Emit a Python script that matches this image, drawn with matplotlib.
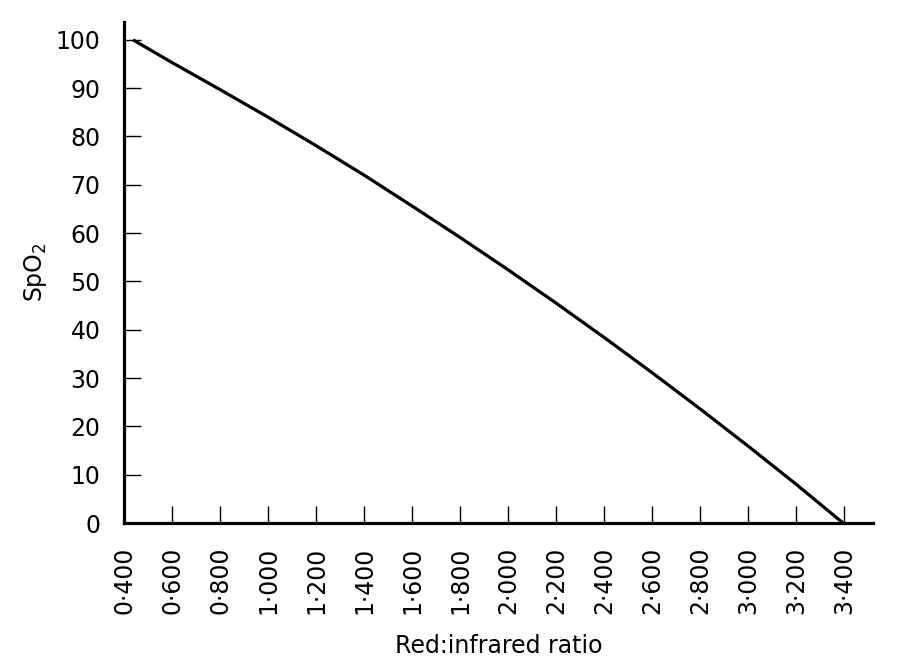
import matplotlib
matplotlib.use("Agg")
import matplotlib.pyplot as plt

# SpO2 calibration curve
ratio = [0.4375, 0.6, 0.8, 1.0, 1.2, 1.4, 1.6, 1.8, 2.0, 2.2, 2.4, 2.6, 2.8, 3.0, 3.2, 3.395]
spo2 = [100, 95.3, 89.7, 84.0, 78.1, 72.0, 65.6, 59.1, 52.4, 45.5, 38.4, 31.1, 23.6, 15.9, 8.0, 0]

x_ticks = [0.4, 0.6, 0.8, 1.0, 1.2, 1.4, 1.6, 1.8, 2.0, 2.2, 2.4, 2.6, 2.8, 3.0, 3.2, 3.4]
x_tick_labels = [f"{v:.3f}".replace(".", "\u00b7") for v in x_ticks]
y_ticks = [0, 10, 20, 30, 40, 50, 60, 70, 80, 90, 100]

plt.rcParams['font.family'] = ['DejaVu Sans']
plt.rcParams['mathtext.fontset'] = 'dejavusans'
plt.rcParams['mathtext.default'] = 'regular'

fig = plt.figure(figsize=(9.1, 6.7), dpi=100)
ax = fig.add_axes([0.1363, 0.2194, 0.8231, 0.7478])

ax.plot(ratio, spo2, color='black', lw=2.3, solid_capstyle='butt', solid_joinstyle='round')

ax.set_xlim(0.4, 3.52)
ax.set_ylim(0, 103.7)

ax.set_xticks(x_ticks)
ax.set_xticklabels(x_tick_labels, rotation=90)
ax.set_yticks(y_ticks)

ax.tick_params(axis='x', direction='in', length=12, width=1.0, pad=17, labelsize=17)
ax.tick_params(axis='y', direction='in', length=12, width=1.0, pad=17, labelsize=17)
# no tick mark at the corner (0.400)
ax.xaxis.get_major_ticks()[0].tick1line.set_visible(False)

for side in ['top', 'right']:
    ax.spines[side].set_visible(False)
for side in ['left', 'bottom']:
    ax.spines[side].set_linewidth(2.3)

ax.set_xlabel('Red:infrared ratio', fontsize=17, labelpad=14)
ax.set_ylabel('SpO$_2$', fontsize=17, labelpad=5)

fig.savefig('out.png', dpi=100, facecolor='white')
